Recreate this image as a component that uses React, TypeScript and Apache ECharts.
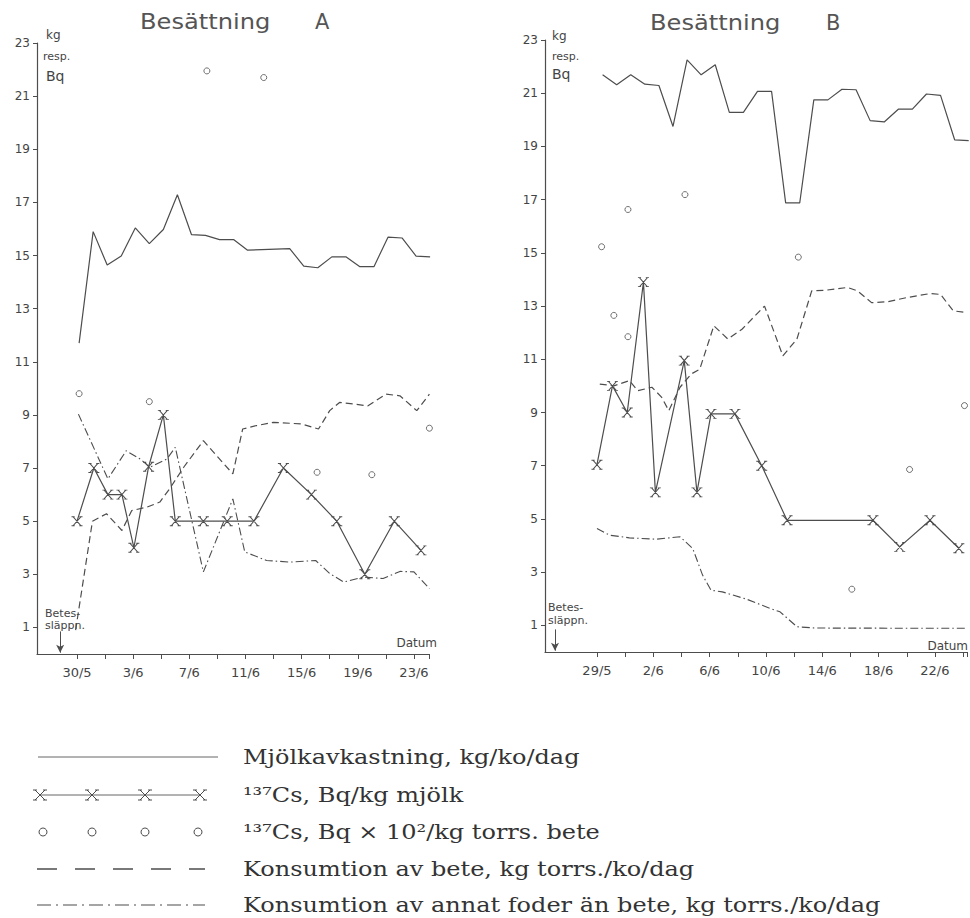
import React, { useEffect, useRef } from 'react';
import * as echarts from 'echarts';

// ---------- shared axis values ----------
const yTickValues = [1, 3, 5, 7, 9, 11, 13, 15, 17, 19, 21, 23];

// ---------- Panel A (day 0 = 30/5) ----------
const dateTicksA = [0, 2, 4, 6, 8, 10, 12, 14, 16, 18, 20, 22, 24];
const dateLabelDaysA = [0, 4, 8, 12, 16, 20, 24];
const dateLabelsA = ['30/5', '3/6', '7/6', '11/6', '15/6', '19/6', '23/6'];
const releaseDayA = -1.2;

const milkStartA = 0.15;
const milkA = [11.7, 15.9, 14.64, 14.98, 16.04, 15.45, 15.98, 17.29, 15.79, 15.76, 15.6, 15.6, 15.2, 15.22, 15.24, 15.26, 14.6, 14.54, 14.95, 14.95, 14.58, 14.58, 15.69, 15.66, 14.98, 14.95];

const csMilkDaysA = [0, 1.2, 2.2, 3.2, 4.05, 5.1, 6.15, 7.0, 9.0, 10.7, 12.6, 14.7, 16.7, 18.5, 20.5, 22.6, 24.5];
const csMilkA = [5.0, 7.0, 6.0, 6.0, 4.0, 7.05, 9.0, 5.0, 5.0, 5.0, 5.0, 7.0, 6.0, 5.0, 3.0, 5.0, 3.9];

const csPastureDaysA = [0.15, 5.15, 9.25, 13.3, 17.1, 21.0, 25.1];
const csPastureA = [9.8, 9.5, 21.95, 21.7, 6.84, 6.75, 8.5];

const beteDaysA = [-0.1, 1.1, 2.1, 3.2, 3.9, 5.0, 5.9, 6.6, 7.6, 9.0, 11.1, 11.8, 12.8, 14.0, 16.0, 17.2, 18.0, 18.7, 19.7, 20.7, 22.0, 23.0, 24.2, 25.1];
const beteA = [0.9, 5.0, 5.28, 4.65, 5.4, 5.53, 5.72, 6.22, 7.03, 8.03, 6.78, 8.47, 8.6, 8.72, 8.66, 8.47, 9.16, 9.47, 9.41, 9.34, 9.78, 9.72, 9.16, 9.78];

const annatDaysA = [0.1, 2.2, 3.5, 4.5, 5.2, 6.4, 7.0, 9.0, 11.1, 11.95, 12.6, 13.5, 15.2, 17.0, 18.0, 19.0, 20.4, 21.8, 23.0, 24.0, 25.1];
const annatA = [9.03, 6.59, 7.65, 7.34, 7.03, 7.34, 7.78, 3.09, 5.84, 3.84, 3.71, 3.52, 3.46, 3.52, 3.03, 2.71, 2.9, 2.84, 3.11, 3.09, 2.46];

// ---------- Panel B (day 0 = 29/5) ----------
const dateTicksB = [0, 2, 4, 6, 8, 10, 12, 14, 16, 18, 20, 22, 24, 26];
const dateLabelDaysB = [0, 4, 8, 12, 16, 20, 24];
const dateLabelsB = ['29/5', '2/6', '6/6', '10/6', '14/6', '18/6', '22/6'];
const releaseDayB = -2.98;

const milkStartB = 0.4;
const milkB = [21.69, 21.32, 21.69, 21.34, 21.29, 19.75, 22.25, 21.69, 22.07, 20.28, 20.28, 21.07, 21.07, 16.88, 16.88, 20.75, 20.75, 21.15, 21.13, 19.97, 19.92, 20.4, 20.4, 20.97, 20.92, 19.25, 19.22];

const csMilkDaysB = [0, 1.1, 2.15, 3.3, 4.15, 6.2, 7.1, 8.1, 9.8, 11.7, 13.5, 19.6, 21.5, 23.65, 25.7];
const csMilkB = [7.04, 10.0, 9.0, 13.9, 6.0, 10.95, 6.0, 8.95, 8.95, 7.0, 4.95, 4.95, 3.95, 4.95, 3.9];

const csPastureDaysB = [0.33, 1.2, 2.2, 2.2, 6.25, 14.3, 18.1, 22.2, 26.1];
const csPastureB = [15.23, 12.65, 16.63, 11.85, 17.19, 14.84, 2.36, 6.86, 9.26];

const beteDaysB = [0.2, 1.2, 2.3, 2.9, 3.9, 4.6, 5.1, 5.9, 6.7, 7.3, 8.3, 9.3, 10.3, 11.9, 13.2, 14.2, 15.25, 16.3, 17.8, 18.5, 19.5, 20.6, 22.0, 23.65, 24.4, 25.3, 26.2];
const beteB = [10.07, 10.0, 10.2, 9.82, 9.95, 9.57, 9.07, 9.95, 10.45, 10.63, 12.26, 11.76, 12.13, 13.0, 11.13, 11.76, 13.57, 13.6, 13.7, 13.57, 13.13, 13.16, 13.32, 13.47, 13.44, 12.82, 12.76];

const annatDaysB = [0, 0.9, 2.3, 4.2, 5.9, 6.8, 7.5, 8.1, 8.9, 10.6, 12.3, 13.0, 14.2, 15.5, 26.2];
const annatB = [4.64, 4.39, 4.29, 4.24, 4.33, 3.89, 2.89, 2.32, 2.26, 1.99, 1.64, 1.51, 0.95, 0.9, 0.89];

// ---------- legend texts ----------
const legendTexts = [
  'Mjölkavkastning, kg/ko/dag',
  '¹³⁷Cs, Bq/kg mjölk',
  '¹³⁷Cs, Bq × 10²/kg torrs. bete',
  'Konsumtion av bete, kg torrs./ko/dag',
  'Konsumtion av annat foder än bete, kg torrs./ko/dag',
];

const STAR_PATH = 'M0,0L10,10M10,0L0,10M-2,0L2,0M8,0L12,0M-2,10L2,10M8,10L12,10';
echarts.graphic.registerShape('csmark', echarts.graphic.extendPath(STAR_PATH, {}) as any);

const INK = '#4d4d4d';
const HAND = '"DejaVu Sans", sans-serif';

const zip = (xs: number[], ys: number[]) => xs.map((x, i) => [x, ys[i]]);

function panelSeries(idx: number, p: any) {
  const base = { xAxisIndex: idx, yAxisIndex: idx, animation: false };
  return [
    {
      ...base,
      type: 'line',
      name: 'milk',
      data: p.milk.map((v: number, i: number) => [p.milkStart + i, v]),
      showSymbol: false,
      lineStyle: { color: INK, width: 1.2 },
      markLine: {
        silent: true,
        symbol: ['none', 'arrow'],
        symbolSize: [6, 8],
        lineStyle: { color: INK, width: 1, type: 'solid' },
        label: { show: false },
        data: [[{ coord: [p.release, 0.85] }, { coord: [p.release, 0.05] }]],
      },
    },
    {
      ...base,
      type: 'line',
      name: 'csmilk',
      data: zip(p.csMilkDays, p.csMilk),
      symbol: 'path://' + STAR_PATH,
      symbolSize: [11, 9],
      showSymbol: true,
      itemStyle: { color: 'rgba(0,0,0,0)', borderColor: INK, borderWidth: 1 },
      lineStyle: { color: INK, width: 1.2 },
    },
    {
      ...base,
      type: 'scatter',
      name: 'cspasture',
      data: zip(p.csPastureDays, p.csPasture),
      symbol: 'circle',
      symbolSize: 6,
      itemStyle: { color: '#fff', borderColor: INK, borderWidth: 1 },
    },
    {
      ...base,
      type: 'line',
      name: 'bete',
      data: zip(p.beteDays, p.bete),
      showSymbol: false,
      lineStyle: { color: INK, width: 1.2, type: [7, 4] },
    },
    {
      ...base,
      type: 'line',
      name: 'annat',
      data: zip(p.annatDays, p.annat),
      showSymbol: false,
      lineStyle: { color: INK, width: 1.1, type: [8, 3, 1.5, 3] },
    },
  ];
}

function xAxisFor(idx: number, min: number, max: number, ticks: number[], labelDays: number[], labels: string[]) {
  return {
    gridIndex: idx,
    type: 'value',
    min,
    max,
    axisLine: { show: true, onZero: false, lineStyle: { color: INK, width: 1.2 } },
    axisTick: { show: true, length: 5, customValues: [...ticks, max], lineStyle: { color: INK } },
    axisLabel: {
      show: true,
      customValues: labelDays,
      formatter: (v: number) => {
        const i = labelDays.indexOf(Math.round(v));
        return i >= 0 ? labels[i] : '';
      },
      color: '#444',
      fontFamily: HAND,
      fontSize: 13,
      margin: 12,
    },
    splitLine: { show: false },
  };
}

function yAxisFor(idx: number) {
  return {
    gridIndex: idx,
    type: 'value',
    min: 0,
    max: 23,
    axisLine: { show: true, onZero: false, lineStyle: { color: INK, width: 1.2 } },
    axisTick: { show: true, length: 4, customValues: yTickValues, lineStyle: { color: INK } },
    axisLabel: {
      show: true,
      customValues: yTickValues,
      color: '#444',
      fontFamily: HAND,
      fontSize: 12,
      margin: 7,
    },
    splitLine: { show: false },
  };
}

function legendGraphics() {
  const rows = [757, 795, 832, 869, 905];
  const g: any[] = [];
  g.push({ type: 'line', shape: { x1: 38, y1: rows[0], x2: 218, y2: rows[0] }, style: { stroke: '#666', lineWidth: 1 } });
  g.push({ type: 'line', shape: { x1: 40, y1: rows[1], x2: 200, y2: rows[1] }, style: { stroke: '#666', lineWidth: 1 } });
  [40, 92, 145, 200].forEach((x) => {
    g.push({ type: 'csmark', x: x - 5, y: rows[1] - 5, style: { stroke: INK, fill: 'none', lineWidth: 1 } });
  });
  [43, 92, 145, 198].forEach((x) => {
    g.push({ type: 'circle', shape: { cx: x, cy: rows[2], r: 4 }, style: { stroke: INK, fill: '#fff', lineWidth: 1 } });
  });
  g.push({ type: 'line', shape: { x1: 37, y1: rows[3], x2: 205, y2: rows[3] }, style: { stroke: INK, lineWidth: 1.5, lineDash: [20, 18] } });
  g.push({ type: 'line', shape: { x1: 37, y1: rows[4], x2: 205, y2: rows[4] }, style: { stroke: INK, lineWidth: 1.2, lineDash: [14, 5, 2, 5] } });
  legendTexts.forEach((t, i) => {
    g.push({
      type: 'text',
      x: 243,
      y: rows[i],
      scaleX: 1.2,
      style: { text: t, fontSize: 20, fontFamily: '"DejaVu Serif", serif', fill: '#333', align: 'left', verticalAlign: 'middle' },
    });
  });
  return g;
}

function textG(text: string, x: number, y: number, size: number, align = 'left', family = HAND, fill = '#444', scaleX = 1) {
  return { type: 'text', x, y, scaleX, style: { text, fontSize: size, fontFamily: family, fill, align, verticalAlign: 'middle' } };
}

export default function App() {
  const ref = useRef<HTMLDivElement>(null);
  useEffect(() => {
    if (!ref.current) return;
    const chart = echarts.init(ref.current, undefined, { renderer: 'svg' });
    const pA = {
      milk: milkA, milkStart: milkStartA, release: releaseDayA,
      csMilkDays: csMilkDaysA, csMilk: csMilkA,
      csPastureDays: csPastureDaysA, csPasture: csPastureA,
      beteDays: beteDaysA, bete: beteA,
      annatDays: annatDaysA, annat: annatA,
    };
    const pB = {
      milk: milkB, milkStart: milkStartB, release: releaseDayB,
      csMilkDays: csMilkDaysB, csMilk: csMilkB,
      csPastureDays: csPastureDaysB, csPasture: csPastureB,
      beteDays: beteDaysB, bete: beteB,
      annatDays: annatDaysB, annat: annatB,
    };
    chart.setOption({
      animation: false,
      backgroundColor: '#fff',
      grid: [
        { left: 37, top: 43, width: 392.4, height: 611, containLabel: false },
        { left: 545, top: 40, width: 422.3, height: 612, containLabel: false },
      ],
      xAxis: [
        xAxisFor(0, -2.85, 25.1, dateTicksA, dateLabelDaysA, dateLabelsA),
        xAxisFor(1, -3.69, 26.3, dateTicksB, dateLabelDaysB, dateLabelsB),
      ],
      yAxis: [yAxisFor(0), yAxisFor(1)],
      series: [...panelSeries(0, pA), ...panelSeries(1, pB)],
      graphic: [
        textG('Besättning', 140, 22, 21, 'left', HAND, '#555', 1.15),
        textG('A', 315, 22, 21, 'left', HAND, '#555'),
        textG('Besättning', 650, 23, 21, 'left', HAND, '#555', 1.15),
        textG('B', 826, 23, 21, 'left', HAND, '#555'),
        textG('kg', 46, 35, 12),
        textG('resp.', 43, 56, 11),
        textG('Bq', 46, 76, 14),
        textG('kg', 552, 36, 12),
        textG('resp.', 552, 56, 11),
        textG('Bq', 552, 74, 14),
        textG('Betes-', 45, 613, 11),
        textG('släppn.', 45, 625, 11),
        textG('Betes-', 548, 607, 11),
        textG('släppn.', 548, 620, 11),
        textG('Datum', 437, 643, 12, 'right'),
        textG('Datum', 968, 646, 12, 'right'),
        ...legendGraphics(),
      ],
    });
    return () => chart.dispose();
  }, []);
  return <div ref={ref} style={{ position: 'absolute', left: 0, top: 0, width: 970, height: 918 }} />;
}
